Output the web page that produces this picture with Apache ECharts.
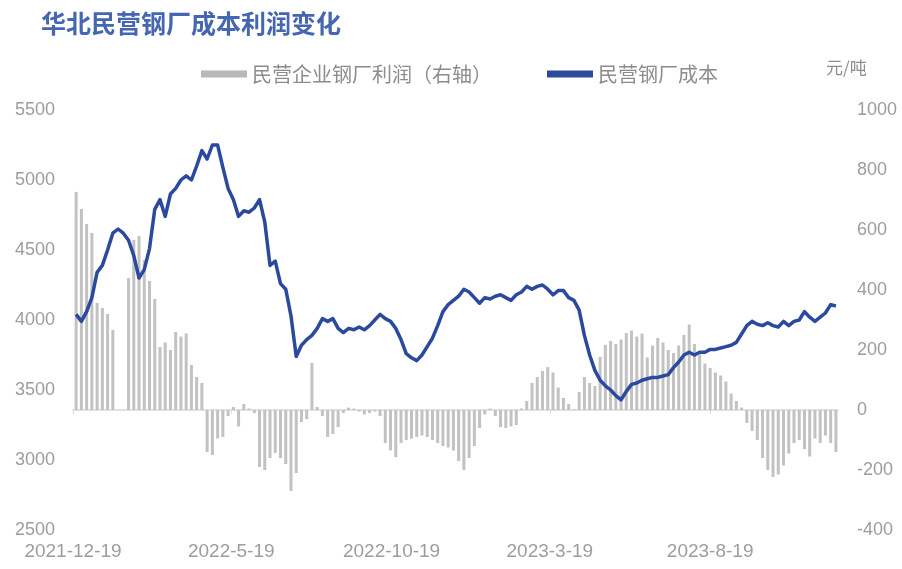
<!DOCTYPE html>
<html>
<head>
<meta charset="utf-8">
<title>华北民营钢厂成本利润变化</title>
<script src="https://cdn.jsdelivr.net/npm/echarts@6/dist/echarts.min.js"></script>
<style>
  html, body { margin: 0; padding: 0; background: #ffffff; }
  #chart { width: 902px; height: 569px; }
</style>
</head>
<body>
<div id="chart"></div>
<script>
// Observation dates (every five days), listed by month
const obsDays = [
  ['2021-12', [22, 27]],
  ['2022-01', [1, 6, 11, 16, 21, 26, 31]],
  ['2022-02', [5, 10, 15, 20, 25]],
  ['2022-03', [2, 7, 12, 17, 22, 27]],
  ['2022-04', [1, 6, 11, 16, 21, 26]],
  ['2022-05', [1, 6, 11, 16, 21, 26, 31]],
  ['2022-06', [5, 10, 15, 20, 25, 30]],
  ['2022-07', [5, 10, 15, 20, 25, 30]],
  ['2022-08', [4, 9, 14, 19, 24, 29]],
  ['2022-09', [3, 8, 13, 18, 23, 28]],
  ['2022-10', [3, 8, 13, 18, 23, 28]],
  ['2022-11', [2, 7, 12, 17, 22, 27]],
  ['2022-12', [2, 7, 12, 17, 22, 27]],
  ['2023-01', [1, 6, 11, 16, 21, 26, 31]],
  ['2023-02', [5, 10, 15, 20, 25]],
  ['2023-03', [2, 7, 12, 17, 22, 27]],
  ['2023-04', [1, 6, 11, 16, 21, 26]],
  ['2023-05', [1, 6, 11, 16, 21, 26, 31]],
  ['2023-06', [5, 10, 15, 20, 25, 30]],
  ['2023-07', [5, 10, 15, 20, 25, 30]],
  ['2023-08', [4, 9, 14, 19, 24, 29]],
  ['2023-09', [3, 8, 13, 18, 23, 28]],
  ['2023-10', [3, 8, 13, 18, 23, 28]],
  ['2023-11', [2, 7, 12, 17, 22, 27]],
  ['2023-12', [2, 7, 12, 17]]
];

// 民营钢厂成本 (元/吨, left axis)
const costValues = [
  4040, 3990, 4060, 4160, 4340, 4390, 4500, 4620, 4650, 4620, 4570, 4460, 4300, 4360, 4510, 4790,
  4860, 4740, 4900, 4940, 5000, 5030, 5000, 5100, 5210, 5150, 5250, 5250, 5090, 4940, 4860, 4740,
  4780, 4770, 4800, 4860, 4700, 4390, 4420, 4260, 4220, 4030, 3740, 3820, 3860, 3890, 3940, 4010,
  3990, 4010, 3940, 3910, 3940, 3930, 3950, 3930, 3960, 4000, 4040, 4010, 3990, 3940, 3860, 3760,
  3730, 3710, 3750, 3810, 3870, 3960, 4060, 4110, 4140, 4170, 4220, 4200, 4160, 4120, 4160, 4150,
  4170, 4180, 4160, 4140, 4180, 4200, 4240, 4220, 4240, 4250, 4220, 4180, 4210, 4210, 4160, 4140,
  4070, 3890, 3750, 3640, 3570, 3530, 3500, 3460, 3430, 3490, 3540, 3550, 3570, 3580, 3590, 3590,
  3600, 3610, 3660, 3700, 3750, 3770, 3750, 3770, 3770, 3790, 3790, 3800, 3810, 3820, 3840, 3900,
  3960, 3990, 3970, 3960, 3980, 3960, 3950, 3990, 3960, 3990, 4000, 4060, 4020, 3990, 4020, 4050,
  4110, 4100
];

// 民营企业钢厂利润 (元/吨, right axis); null = no data
const profitValues = [
  727, 670, 620, 590, 357, 340, 320, 267, null, null, 440, 567, 580, 500, 430, 370,
  210, 225, 200, 260, 245, 255, 150, 110, 90, -140, -150, -95, -90, -20, 10, -55,
  20, 5, -10, -190, -200, -160, -143, -160, -180, -270, -210, -40, -30, 157, 10, -20,
  -90, -80, -57, -10, 8, 5, -5, -15, -10, -5, -20, -110, -135, -157, -110, -100,
  -95, -90, -85, -90, -100, -110, -120, -125, -135, -170, -200, -160, -120, -60, -15, 5,
  -20, -57, -60, -55, -50, 5, 30, 90, 110, 130, 143, 125, 75, 40, 20, 3,
  60, 110, 90, 80, 177, 217, 230, 220, 235, 257, 265, 245, 255, 175, 215, 240,
  225, 200, 190, 215, 250, 285, 220, 185, 155, 140, 125, 115, 95, 55, 30, 8,
  -43, -70, -100, -160, -200, -223, -215, -185, -145, -110, -100, -130, -155, -95, -110, -85,
  -110, -140
];

// Axis settings
const xRange = ['2021-12-19', '2023-12-19'];
const xTickLabels = ['2021-12-19', '2022-5-19', '2022-10-19', '2023-3-19', '2023-8-19'];
const costAxis = { min: 2500, max: 5500, interval: 500 };
const profitAxis = { min: -400, max: 1000, interval: 200 };

// Dates become day numbers so the x axis can be a plain numeric scale
const DAY = 86400000;
function dayNumber(y, m, d) {
  return Math.round(Date.UTC(y, m - 1, d) / DAY);
}
function toDay(s) {
  const p = s.split('-').map(Number);
  return dayNumber(p[0], p[1], p[2]);
}

const obsDates = [];
obsDays.forEach(([ym, days]) => {
  const [y, m] = ym.split('-').map(Number);
  days.forEach(d => obsDates.push(dayNumber(y, m, d)));
});

const tickDays = xTickLabels.map(toDay);
const costData = obsDates.map((d, i) => [d, costValues[i]]);
const profitData = obsDates.map((d, i) => [d, profitValues[i]]);

const chart = echarts.init(document.getElementById('chart'), null, { renderer: 'canvas' });

const labelColor = '#9d9d9d';
const numFont = 'Liberation Sans, Arial, sans-serif';
const plainNumber = v => String(v);

chart.setOption({
  backgroundColor: '#ffffff',
  animation: false,
  title: {
    text: '华北民营钢厂成本利润变化',
    left: 36,
    top: 6,
    textStyle: {
      fontFamily: 'Noto Sans CJK SC',
      fontSize: 25,
      fontWeight: 'bold',
      color: '#4566b0'
    }
  },
  legend: {
    left: 196,
    top: 59,
    itemWidth: 46,
    itemHeight: 7,
    itemGap: 55,
    icon: 'rect',
    textStyle: {
      fontFamily: 'Noto Sans CJK SC',
      fontSize: 20,
      color: '#8c8c8c'
    },
    data: [
      { name: '民营企业钢厂利润（右轴）', itemStyle: { color: '#b8b8b8' } },
      { name: '民营钢厂成本', itemStyle: { color: '#2b4a9e' } }
    ]
  },
  graphic: [{
    type: 'text',
    left: 826,
    top: 59,
    style: {
      text: '元/吨',
      fontFamily: 'Noto Sans CJK SC',
      fontSize: 17,
      fill: '#8c8c8c'
    }
  }],
  grid: { left: 73, right: 64, top: 110, bottom: 39, containLabel: false },
  xAxis: {
    type: 'value',
    min: toDay(xRange[0]),
    max: toDay(xRange[1]),
    splitLine: { show: false },
    axisLine: { show: true, lineStyle: { color: '#d9d9d9', width: 1.5 } },
    axisTick: {
      show: true,
      customValues: tickDays,
      length: 4,
      lineStyle: { color: '#d9d9d9' }
    },
    axisLabel: {
      customValues: tickDays,
      formatter: function (val) {
        const i = tickDays.indexOf(val);
        return i >= 0 ? xTickLabels[i] : '';
      },
      color: labelColor,
      fontFamily: numFont,
      fontSize: 19,
      margin: 12,
      hideOverlap: false
    }
  },
  yAxis: [{
    type: 'value',
    position: 'left',
    min: costAxis.min,
    max: costAxis.max,
    interval: costAxis.interval,
    axisLine: { show: false },
    axisTick: { show: false },
    splitLine: { show: false },
    axisLabel: { color: labelColor, fontFamily: numFont, fontSize: 18, margin: 18, formatter: plainNumber }
  }, {
    type: 'value',
    position: 'right',
    min: profitAxis.min,
    max: profitAxis.max,
    interval: profitAxis.interval,
    axisLine: { show: false },
    axisTick: { show: false },
    splitLine: { show: false },
    axisLabel: { color: labelColor, fontFamily: numFont, fontSize: 18, margin: 19, formatter: plainNumber }
  }],
  series: [{
    name: '民营企业钢厂利润（右轴）',
    type: 'bar',
    yAxisIndex: 1,
    data: profitData,
    barWidth: 3,
    itemStyle: { color: '#c2c2c2' },
    z: 1
  }, {
    name: '民营钢厂成本',
    type: 'line',
    yAxisIndex: 0,
    data: costData,
    showSymbol: false,
    symbol: 'none',
    lineStyle: { color: '#2b4a9e', width: 3.5, join: 'round' },
    itemStyle: { color: '#2b4a9e' },
    z: 3
  }]
});
</script>
</body>
</html>
